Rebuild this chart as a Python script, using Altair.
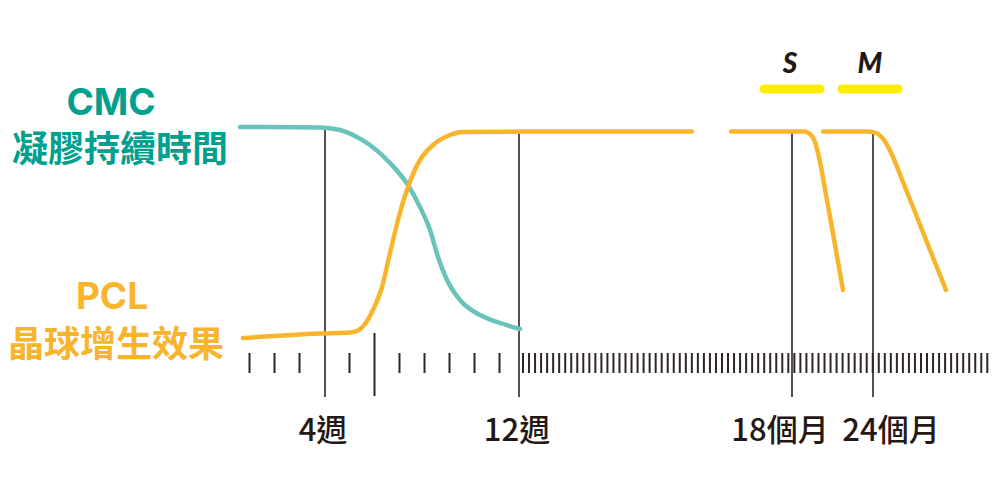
import altair as alt
import pandas as pd

# ---- data (schematic positions, reference-pixel units) ----
cmc_x = [240, 320, 340, 355, 370, 390, 408, 420, 430, 438, 447, 460, 480, 500, 520]
cmc_y = [127, 127.5, 130, 136, 145, 163, 185, 207, 230, 257, 280, 300, 315, 323, 329]

pcl1_x = [243, 320, 350, 358, 365, 373, 382, 390, 398, 408, 420, 433, 450, 463, 530, 692]
pcl1_y = [338, 333.5, 332.5, 330.5, 324, 310, 287, 253, 220, 187, 160, 145, 135, 132, 131.5, 131.5]
pcl2_x = [731, 804, 810, 815, 820, 826, 832, 838, 843]
pcl2_y = [131.5, 131.5, 134, 142, 162, 195, 228, 262, 290]
pcl3_x = [823, 868, 876, 884, 893, 903, 915, 928, 940, 946]
pcl3_y = [131.5, 131.5, 133, 140, 157, 182, 212, 245, 275, 290]

week_ticks = [249.5, 274.5, 299.5, 349.5, 399.5, 424.5, 449.5, 474.5, 499.5]
dense_start, dense_step, dense_count = 523, 6.03, 79
tall_tick = [374.5]
milestone_x = [325, 519, 792, 873]
milestone_top = [128, 131, 131, 131]
milestone_labels = ["4週", "12週", "18個月", "24個月"]
milestone_label_x = [323, 517, 780, 891]

size_labels = ["S", "M"]
size_label_x = [790, 870]
size_bar_x = [764, 842]
size_bar_x2 = [820, 898]

TEAL_LINE = "#68C3B9"
TEAL_TEXT = "#00A08F"
ORANGE = "#F8B52C"
YELLOW = "#FFEE00"
DARK = "#2E2526"

xs = alt.Scale(domain=[8, 992], nice=False, zero=False)
ys = alt.Scale(domain=[8, 487], nice=False, zero=False, reverse=True)

def X(f="x"):
    return alt.X(f"{f}:Q", scale=xs, axis=None)

def Y(f="y"):
    return alt.Y(f"{f}:Q", scale=ys, axis=None)

# ---- tables ----
cmc_df = pd.DataFrame({"x": cmc_x, "y": cmc_y})
pcl_df = pd.concat([
    pd.DataFrame({"x": pcl1_x, "y": pcl1_y, "seg": "a"}),
    pd.DataFrame({"x": pcl2_x, "y": pcl2_y, "seg": "b"}),
    pd.DataFrame({"x": pcl3_x, "y": pcl3_y, "seg": "c"}),
])
dense_ticks = [dense_start + i * dense_step for i in range(dense_count)]
short_df = pd.DataFrame({"x": week_ticks + dense_ticks, "y": 353, "y2": 373})
tall_df = pd.DataFrame({"x": tall_tick, "y": 333, "y2": 396})
mile_df = pd.DataFrame({"x": milestone_x, "y": milestone_top, "y2": 397})
mile_lab_df = pd.DataFrame({"x": milestone_label_x, "y": 432, "t": milestone_labels})
bar_df = pd.DataFrame({"x": size_bar_x, "x2": size_bar_x2, "y": 89})
size_df = pd.DataFrame({"x": size_label_x, "y": 65, "t": size_labels})

cmc_lab = pd.DataFrame({"x": [111], "y": [104], "t": ["CMC"]})
cmc_lab2 = pd.DataFrame({"x": [120], "y": [151], "t": ["凝膠持續時間"]})
pcl_lab = pd.DataFrame({"x": [112], "y": [298], "t": ["PCL"]})
pcl_lab2 = pd.DataFrame({"x": [116], "y": [346], "t": ["晶球增生效果"]})

# ---- layers ----
short_ticks = alt.Chart(short_df).mark_rule(color=DARK, strokeWidth=2).encode(
    x=X(), y=Y(), y2="y2:Q")
tall = alt.Chart(tall_df).mark_rule(color=DARK, strokeWidth=2).encode(
    x=X(), y=Y(), y2="y2:Q")
miles = alt.Chart(mile_df).mark_rule(color=DARK, strokeWidth=1.6).encode(
    x=X(), y=Y(), y2="y2:Q")

cmc_line = alt.Chart(cmc_df).mark_line(
    color=TEAL_LINE, strokeWidth=4.5, interpolate="monotone", strokeCap="round"
).encode(x=X(), y=Y())
pcl_line = alt.Chart(pcl_df).mark_line(
    color=ORANGE, strokeWidth=4.5, interpolate="monotone", strokeCap="round"
).encode(x=X(), y=Y(), detail="seg:N")

bars = alt.Chart(bar_df).mark_rule(
    color=YELLOW, strokeWidth=9, strokeCap="round"
).encode(x=X(), x2="x2:Q", y=Y())

def text_layer(df, color, size, font, weight="normal", style="normal"):
    return alt.Chart(df).mark_text(
        color=color, fontSize=size, font=font, fontWeight=weight,
        fontStyle=style, align="center", baseline="middle"
    ).encode(x=X(), y=Y(), text="t:N")

texts = [
    text_layer(cmc_lab, TEAL_TEXT, 37, "Inter", "bold"),
    text_layer(cmc_lab2, TEAL_TEXT, 36, "Noto Sans CJK TC", "bold"),
    text_layer(pcl_lab, ORANGE, 37, "Inter", "bold"),
    text_layer(pcl_lab2, ORANGE, 36, "Noto Sans CJK TC", "bold"),
    text_layer(mile_lab_df, "#231815", 31, "Noto Sans CJK TC", 500),
    text_layer(size_df, "#231815", 28, "Lato", 900, "italic"),
]

chart = alt.layer(
    short_ticks, tall, miles, cmc_line, pcl_line, bars, *texts
).properties(
    width=984, height=479,
    autosize=alt.AutoSizeParams(type="none"),
    padding=0,
    background="white",
).configure_view(stroke=None)

chart.save("out.html", embed_options={"renderer": "svg", "actions": False})
